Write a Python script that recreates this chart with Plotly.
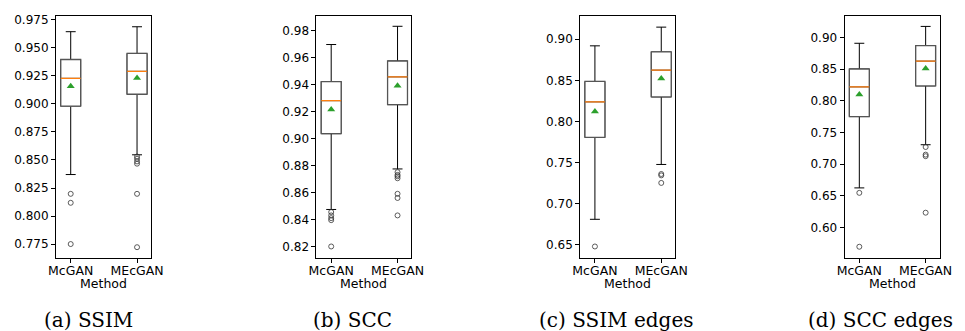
import plotly.graph_objects as go

categories = ["McGAN", "MEcGAN"]
panel_captions = ["(a) SSIM", "(b) SCC", "(c) SSIM edges", "(d) SCC edges"]
axis_title = "Method"

# SSIM
ssim_q1 = [0.898, 0.9086]
ssim_median = [0.9228, 0.929]
ssim_q3 = [0.9396, 0.945]
ssim_lower = [0.837, 0.8546]
ssim_upper = [0.9644, 0.9688]
ssim_mean = [0.9157, 0.923]
ssim_out_mcgan = [0.8198, 0.8118, 0.775]
ssim_out_mecgan = [0.8531, 0.8511, 0.8487, 0.8467, 0.8198, 0.7722]

# SCC
scc_q1 = [0.9035, 0.925]
scc_median = [0.928, 0.9456]
scc_q3 = [0.9421, 0.9573]
scc_lower = [0.8474, 0.8774]
scc_upper = [0.9695, 0.983]
scc_mean = [0.9214, 0.939]
scc_out_mcgan = [0.8455, 0.843, 0.841, 0.8395, 0.82]
scc_out_mecgan = [0.875, 0.873, 0.872, 0.8705, 0.859, 0.8559, 0.843]

# SSIM edges
ssime_q1 = [0.7805, 0.8298]
ssime_median = [0.8238, 0.8623]
ssime_q3 = [0.8486, 0.8847]
ssime_lower = [0.6807, 0.7475]
ssime_upper = [0.892, 0.9148]
ssime_mean = [0.8121, 0.8522]
ssime_out_mcgan = [0.6476]
ssime_out_mecgan = [0.7359, 0.7342, 0.725]

# SCC edges
scce_q1 = [0.775, 0.8234]
scce_median = [0.8219, 0.8625]
scce_q3 = [0.85, 0.8869]
scce_lower = [0.6625, 0.7306]
scce_upper = [0.8906, 0.9172]
scce_mean = [0.8098, 0.851]
scce_out_mcgan = [0.6547, 0.5697]
scce_out_mecgan = [0.727, 0.715, 0.7125, 0.6234]

panels = [
    (ssim_q1, ssim_median, ssim_q3, ssim_lower, ssim_upper, ssim_mean, [ssim_out_mcgan, ssim_out_mecgan]),
    (scc_q1, scc_median, scc_q3, scc_lower, scc_upper, scc_mean, [scc_out_mcgan, scc_out_mecgan]),
    (ssime_q1, ssime_median, ssime_q3, ssime_lower, ssime_upper, ssime_mean, [ssime_out_mcgan, ssime_out_mecgan]),
    (scce_q1, scce_median, scce_q3, scce_lower, scce_upper, scce_mean, [scce_out_mcgan, scce_out_mecgan]),
]

W, H = 965, 331
ax_left = [49, 315, 584.3, 854.3]
ax_w = 97
ax_top, ax_bot = 13, 257.3
y_ranges = [[0.7626, 0.9785], [0.8115, 0.9907], [0.6336, 0.9285], [0.552, 0.9338]]
y_ticks = [
    ([0.775 + 0.025 * i for i in range(9)], ".3f"),
    ([0.82 + 0.02 * i for i in range(9)], ".2f"),
    ([0.65 + 0.05 * i for i in range(6)], ".2f"),
    ([0.60 + 0.05 * i for i in range(7)], ".2f"),
]
caption_x = [82, 352, 621.7, 891]
positions = [1, 2]
box_w = 0.3

fig = go.Figure()
for p, (q1, med, q3, lo, hi, mean, outs) in enumerate(panels):
    xa = "x" if p == 0 else f"x{p+1}"
    ya = "y" if p == 0 else f"y{p+1}"
    for i in range(2):
        x = [positions[i]]
        # full box with whiskers (black)
        fig.add_trace(go.Box(x=x, q1=[q1[i]], median=[med[i]], q3=[q3[i]],
                             lowerfence=[lo[i]], upperfence=[hi[i]],
                             width=box_w, whiskerwidth=0.5, boxpoints=False,
                             line=dict(color="black", width=1), fillcolor="white",
                             xaxis=xa, yaxis=ya, showlegend=False, hoverinfo="skip"))
        # box outline (dark grey)
        fig.add_trace(go.Box(x=x, q1=[q1[i]], median=[med[i]], q3=[q3[i]],
                             lowerfence=[q1[i]], upperfence=[q3[i]],
                             width=box_w, whiskerwidth=0, boxpoints=False,
                             line=dict(color="#555555", width=1.3), fillcolor="white",
                             xaxis=xa, yaxis=ya, showlegend=False, hoverinfo="skip"))
        # median line (orange)
        fig.add_trace(go.Box(x=x, q1=[med[i]], median=[med[i]], q3=[med[i]],
                             lowerfence=[med[i]], upperfence=[med[i]],
                             width=box_w, whiskerwidth=0, boxpoints=False,
                             line=dict(color="#ff7f0e", width=1.3), fillcolor="rgba(0,0,0,0)",
                             xaxis=xa, yaxis=ya, showlegend=False, hoverinfo="skip"))
        # outliers
        fig.add_trace(go.Scatter(x=[positions[i]] * len(outs[i]), y=outs[i], mode="markers",
                                 marker=dict(symbol="circle-open", size=5, color="#333333",
                                             line=dict(width=0.8)),
                                 xaxis=xa, yaxis=ya, showlegend=False, hoverinfo="skip"))
    # means
    fig.add_trace(go.Scatter(x=positions, y=mean, mode="markers",
                             marker=dict(symbol="triangle-up", size=7, color="#2ca02c"),
                             xaxis=xa, yaxis=ya, showlegend=False, hoverinfo="skip"))

layout = dict(
    width=W, height=H, margin=dict(l=0, r=0, t=0, b=0),
    paper_bgcolor="white", plot_bgcolor="white",
    font=dict(family="DejaVu Sans", size=12, color="black"),
    boxmode="overlay",
)
annotations = []
for p in range(4):
    sx = "" if p == 0 else str(p + 1)
    x0 = ax_left[p] / W
    x1 = (ax_left[p] + ax_w) / W
    layout["xaxis" + sx] = dict(
        domain=[x0, x1], range=[0.778, 2.21], anchor="y" + sx,
        tickmode="array", tickvals=positions, ticktext=categories,
        ticks="outside", ticklen=4, tickcolor="black", ticklabelstandoff=-3,
        showline=True, linecolor="black", linewidth=1, mirror=True,
        showgrid=False, zeroline=False, tickfont=dict(size=12.5),
    )
    tv, fmt = y_ticks[p]
    layout["yaxis" + sx] = dict(
        domain=[1 - ax_bot / H, 1 - ax_top / H], range=y_ranges[p], anchor="x" + sx,
        tickmode="array", tickvals=tv, tickformat=fmt,
        ticks="outside", ticklen=4, tickcolor="black",
        showline=True, linecolor="black", linewidth=1, mirror=True,
        showgrid=False, zeroline=False, tickfont=dict(size=12),
    )
    annotations.append(dict(text=axis_title, x=(x0 + x1) / 2, y=1 - 283 / H,
                            xref="paper", yref="paper", showarrow=False,
                            xanchor="center", yanchor="middle",
                            font=dict(family="DejaVu Sans", size=12.5)))
    annotations.append(dict(text=panel_captions[p], x=caption_x[p] / W, y=1 - 320 / H,
                            xref="paper", yref="paper", showarrow=False,
                            xanchor="center", yanchor="middle",
                            font=dict(family="DejaVu Serif", size=20)))
layout["annotations"] = annotations
fig.update_layout(**layout)

fig.write_html("out.html", config={"displayModeBar": False},
               post_script="document.body.style.margin='0';document.body.style.overflow='hidden';")
